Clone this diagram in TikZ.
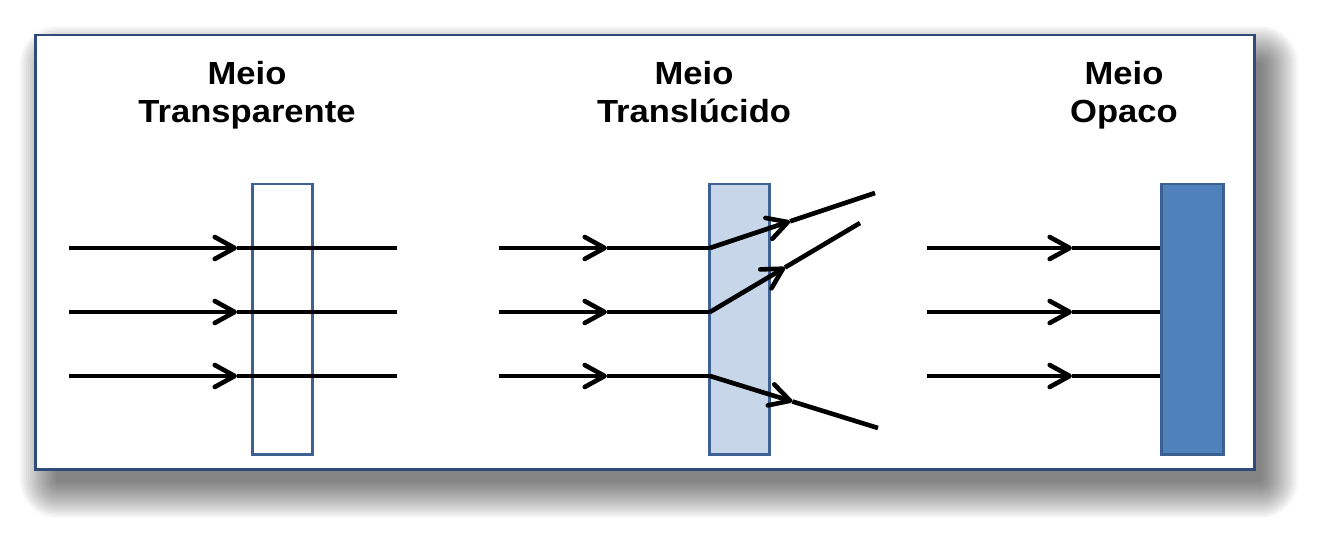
\documentclass[tikz,border=0pt]{standalone}
\usepackage{fontspec}
\newfontfamily\titlefont{Liberation Sans}[FakeStretch=1.08]
\usetikzlibrary{arrows.meta,calc}
\definecolor{frameblue}{HTML}{2F4B7C}
\definecolor{edgeblue}{HTML}{3C6192}
\definecolor{lightfill}{HTML}{C8D6EA}
\definecolor{darkfill}{HTML}{4F81BD}
\definecolor{darkedge}{HTML}{3A6090}
\begin{document}
\begin{tikzpicture}[x=0.5pt,y=-0.5pt,
  ray/.style={line width=2.3pt, black},
  rayarrow/.style={ray, -{Straight Barb[length=10pt,width=11pt,round]}},
  title/.style={font=\titlefont\bfseries\fontsize{16pt}{19.25pt}\selectfont, align=center, anchor=base, inner sep=0pt},
  medium/.style={draw=edgeblue, line width=1.25pt, minimum width=30pt, minimum height=135pt, inner sep=0pt, anchor=north west}
]
\useasboundingbox (0,0) rectangle (1319,535);
\fill[white] (0,0) rectangle (1319,535);
% soft shadow
\foreach \r in {0,2,...,36}{
  \pgfmathsetmacro\rc{0.5*\r+1}
  \fill[black, opacity=0.032, rounded corners=\rc pt] (56-\r,62-\r) rectangle (1262+\r,482+\r);
}
% frame
\node[draw=frameblue, fill=white, line width=1.25pt, inner sep=0pt, minimum width=609.5pt, minimum height=217pt, anchor=north west] (frame) at (34,34) {};

% titles (anchor at the baseline of the last line)
\node[title] (h1) at (247,123) {Meio\\Transparente};
\node[title] (h2) at (694,123) {Meio\\Transl\'ucido};
\node[title] (h3) at (1124,123) {Meio\\Opaco};

% media
\node[medium] (b1) at (251,183) {};
\node[medium, fill=lightfill] (b2) at (708,183) {};
\node[medium, fill=darkfill, draw=darkedge, minimum width=31pt] (b3) at (1160,183) {};

% transparent rays
\foreach \i/\y in {1/248,2/312,3/376}{
  \coordinate (t\i s) at (69,\y);
  \coordinate (t\i m) at (237,\y);
  \coordinate (t\i e) at (397,\y);
  \draw[rayarrow] (t\i s) -- (t\i m);
  \draw[ray] (t\i m) -- (t\i e);
}

% translucent rays
\foreach \i/\y in {1/248,2/312,3/376}{
  \coordinate (l\i s) at (499,\y);
  \coordinate (l\i m) at (607,\y);
  \coordinate (l\i k) at (710,\y);
  \draw[rayarrow] (l\i s) -- (l\i m);
  \draw[ray] (l\i m) -- (l\i k);
}
\coordinate (d1e) at (875,193);
\coordinate (d2e) at (860,223);
\coordinate (d3e) at (878,428);
\coordinate (d1m) at ($(l1k)!0.485!(d1e)$);
\coordinate (d2m) at ($(l2k)!0.5!(d2e)$);
\coordinate (d3m) at ($(l3k)!0.49!(d3e)$);
\foreach \i in {1,2,3}{
  \draw[rayarrow] (l\i k) -- (d\i m);
  \draw[ray] (d\i m) -- (d\i e);
}

% opaque rays
\foreach \i/\y in {1/248,2/312,3/376}{
  \coordinate (o\i s) at (927,\y);
  \coordinate (o\i m) at (1072,\y);
  \draw[rayarrow] (o\i s) -- (o\i m);
  \draw[ray] (o\i m) -- (o\i m -| b3.west);
}
\end{tikzpicture}
\end{document}
